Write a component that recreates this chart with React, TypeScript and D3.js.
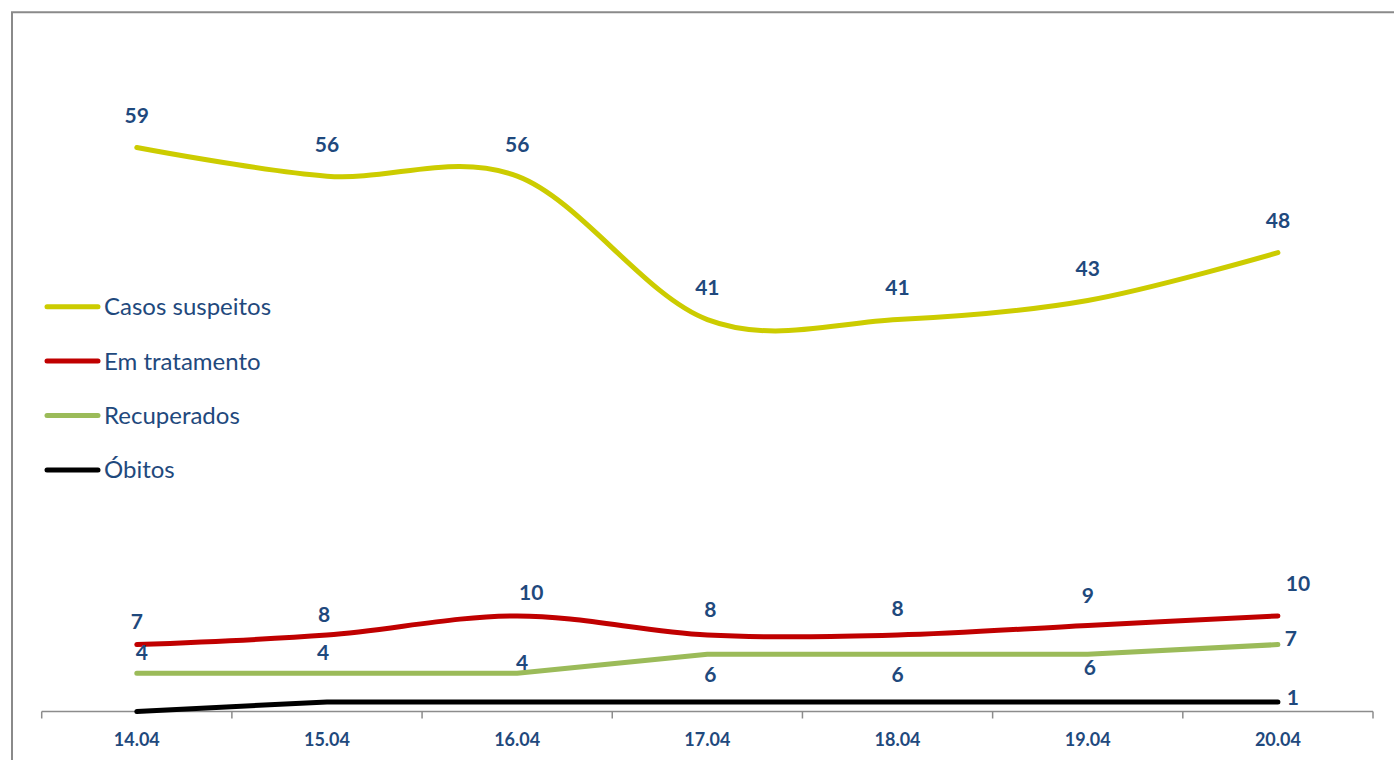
import React from "react";
import * as d3 from "d3";

const dates = ["14.04", "15.04", "16.04", "17.04", "18.04", "19.04", "20.04"];
const casosSuspeitos = [59, 56, 56, 41, 41, 43, 48];
const emTratamento = [7, 8, 10, 8, 8, 9, 10];
const recuperados = [4, 4, 4, 6, 6, 6, 7];
const obitos = [0, 1, 1, 1, 1, 1, 1];
const seriesNames = ["Casos suspeitos", "Em tratamento", "Recuperados", "Óbitos"];
// which points carry a data label (Óbitos only on the last day)
const obitosLabelShown = [false, false, false, false, false, false, true];
// smoothed (true) or straight segments (false) per series
const smoothed = [true, true, false, false];

// label placement offsets (style config, in px)
const labelOffsets: [number, number][][] = [
  [[0, -32], [0, -32], [0, -32], [0, -32], [0, -32], [0, -32], [0, -32]],
  [[0, -23], [-3, -21], [14, -23], [3, -25.5], [0, -27], [0, -30], [20, -32]],
  [[5, -21], [-4, -21], [5, -11], [3, 20], [0, 20], [2, 13.5], [13, -6.5]],
  [[0, -10], [0, -10], [0, -10], [0, -10], [0, -10], [0, -10], [15, -4.5]],
];

const W = 1394;
const H = 760;
const colors = ["#CCCC00", "#C00000", "#9BBB59", "#000000"];
const textColor = "#1F497D";
const FONT = "Lato, 'Open Sans', sans-serif";

export default function App() {
  const x = d3.scaleBand<string>().domain(dates).range([41.7, 1373]).paddingInner(0).paddingOuter(0);
  const bw = x.bandwidth();
  const cx = (d: string) => (x(d) as number) + bw / 2;
  const y = d3.scaleLinear().domain([0, 70]).range([711.5, 42.3]);
  const allSeries = [casosSuspeitos, emTratamento, recuperados, obitos];

  const makeLine = (smooth: boolean) =>
    d3
      .line<number>()
      .x((_, i) => cx(dates[i]))
      .y((v) => y(v))
      .curve(smooth ? d3.curveCardinal.tension(0) : d3.curveLinear);

  const tickPositions = [...dates.map((d) => x(d) as number), 1373];
  const axisY = y(0);

  const legendY0 = 306.7;
  const legendStep = 54.4;

  return (
    <div style={{ position: "absolute", left: 0, top: 0 }}>
      <svg width={W} height={H} style={{ display: "block", background: "#fff" }}>
        <path d={`M12,${H} V12.3 H${W}`} fill="none" stroke="#8A8A8A" strokeWidth={2} />

        {/* axis */}
        <line x1={41.7} x2={1373} y1={axisY} y2={axisY} stroke="#8C8C8C" strokeWidth={1.5} />
        {tickPositions.map((t, i) => (
          <line key={i} x1={t} x2={t} y1={axisY} y2={axisY + 7} stroke="#8C8C8C" strokeWidth={1.5} />
        ))}
        {dates.map((d) => (
          <text
            key={d}
            x={cx(d)}
            y={745.5}
            textAnchor="middle"
            fontFamily={FONT}
            fontWeight={700}
            fontSize={18}
            fill={textColor}
          >
            {d}
          </text>
        ))}

        {/* lines */}
        {allSeries.map((s, si) => (
          <path
            key={si}
            d={makeLine(smoothed[si])(s) || ""}
            fill="none"
            stroke={colors[si]}
            strokeWidth={5}
            strokeLinecap="round"
            strokeLinejoin="round"
          />
        ))}

        {/* data labels */}
        {allSeries.map((s, si) =>
          s.map((v, i) => {
            if (si === 3 && !obitosLabelShown[i]) return null;
            const [dx, dy] = labelOffsets[si][i];
            return (
              <text
                key={`${si}-${i}`}
                x={cx(dates[i]) + dx}
                y={y(v) + dy + 7.5}
                textAnchor="middle"
                fontFamily={FONT}
                fontWeight={700}
                fontSize={21}
                fill={textColor}
              >
                {v}
              </text>
            );
          })
        )}

        {/* legend */}
        {seriesNames.map((n, i) => {
          const ly = legendY0 + i * legendStep;
          return (
            <g key={n}>
              <line x1={47} x2={98} y1={ly} y2={ly} stroke={colors[i]} strokeWidth={5} strokeLinecap="round" />
              <text x={104} y={ly + 8.5} fontFamily={FONT} fontSize={24} fill={textColor}>
                {n}
              </text>
            </g>
          );
        })}
      </svg>
    </div>
  );
}
